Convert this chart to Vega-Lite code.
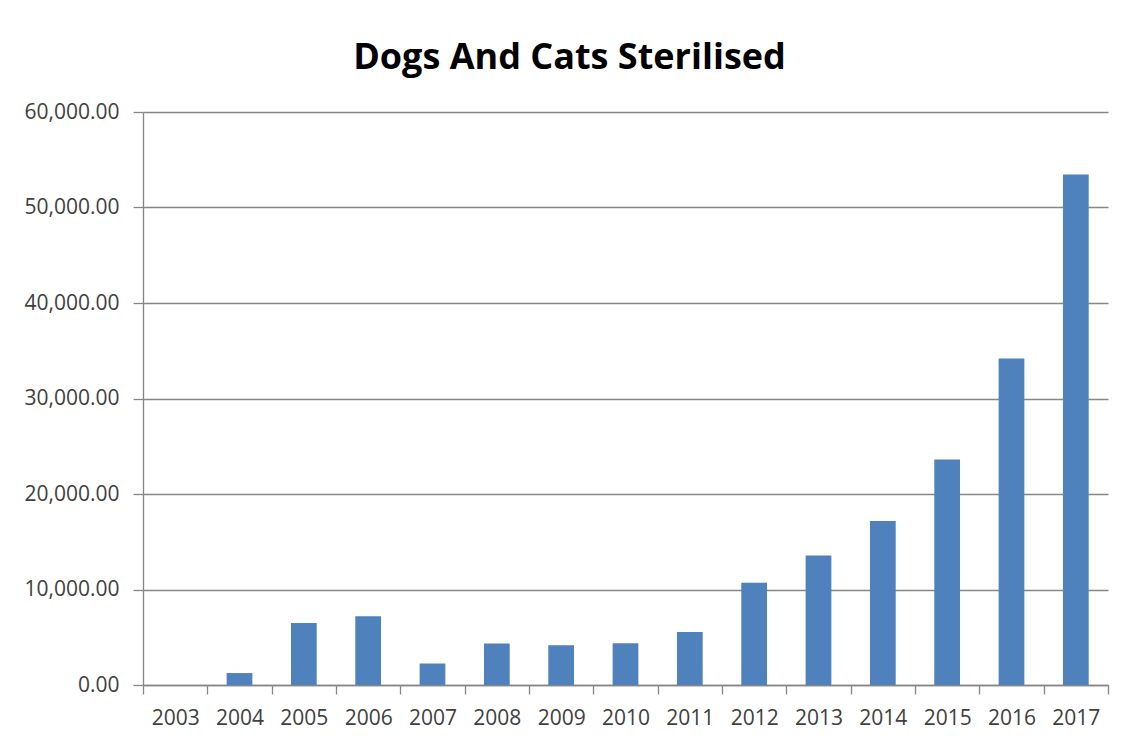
{
  "$schema": "https://vega.github.io/schema/vega-lite/v6.json",
  "autosize": "none",
  "width": 965,
  "height": 573,
  "padding": {"left": 143, "top": 112, "right": 17, "bottom": 53},
  "background": "white",
  "title": {
    "text": "Dogs And Cats Sterilised",
    "font": "Open Sans",
    "fontSize": 36,
    "fontWeight": "bold",
    "color": "#000000",
    "anchor": "middle",
    "dx": -56,
    "offset": 24
  },
  "data": {
    "values": [
      {"year": "2003", "sterilised": 0},
      {"year": "2004", "sterilised": 1250},
      {"year": "2005", "sterilised": 6500},
      {"year": "2006", "sterilised": 7200},
      {"year": "2007", "sterilised": 2250},
      {"year": "2008", "sterilised": 4350},
      {"year": "2009", "sterilised": 4150},
      {"year": "2010", "sterilised": 4380},
      {"year": "2011", "sterilised": 5550},
      {"year": "2012", "sterilised": 10700},
      {"year": "2013", "sterilised": 13560},
      {"year": "2014", "sterilised": 17180},
      {"year": "2015", "sterilised": 23600},
      {"year": "2016", "sterilised": 34200},
      {"year": "2017", "sterilised": 53450}
    ]
  },
  "mark": {"type": "bar", "color": "#4F81BD", "width": {"band": 0.4}},
  "encoding": {
    "x": {
      "field": "year",
      "type": "ordinal",
      "scale": {"paddingInner": 0, "paddingOuter": 0},
      "axis": {
        "title": null,
        "labelAngle": 0,
        "tickBand": "extent",
        "labelFont": "Open Sans",
        "labelFontSize": 21,
        "labelColor": "#404040",
        "tickSize": 9,
        "labelPadding": 13,
        "tickColor": "#868686",
        "domainColor": "#868686",
        "tickWidth": 1.3,
        "domainWidth": 1.3,
        "grid": false
      }
    },
    "y": {
      "field": "sterilised",
      "type": "quantitative",
      "scale": {"domain": [0, 60000], "nice": false},
      "axis": {
        "title": null,
        "values": [0, 10000, 20000, 30000, 40000, 50000, 60000],
        "format": ",.2f",
        "labelFont": "Open Sans",
        "labelFontSize": 21,
        "labelColor": "#404040",
        "tickSize": 10,
        "labelPadding": 14,
        "tickColor": "#868686",
        "domainColor": "#868686",
        "tickWidth": 1.3,
        "domainWidth": 1.3,
        "grid": true,
        "gridColor": "#868686",
        "gridWidth": 1.3
      }
    }
  },
  "config": {"view": {"stroke": null}}
}
